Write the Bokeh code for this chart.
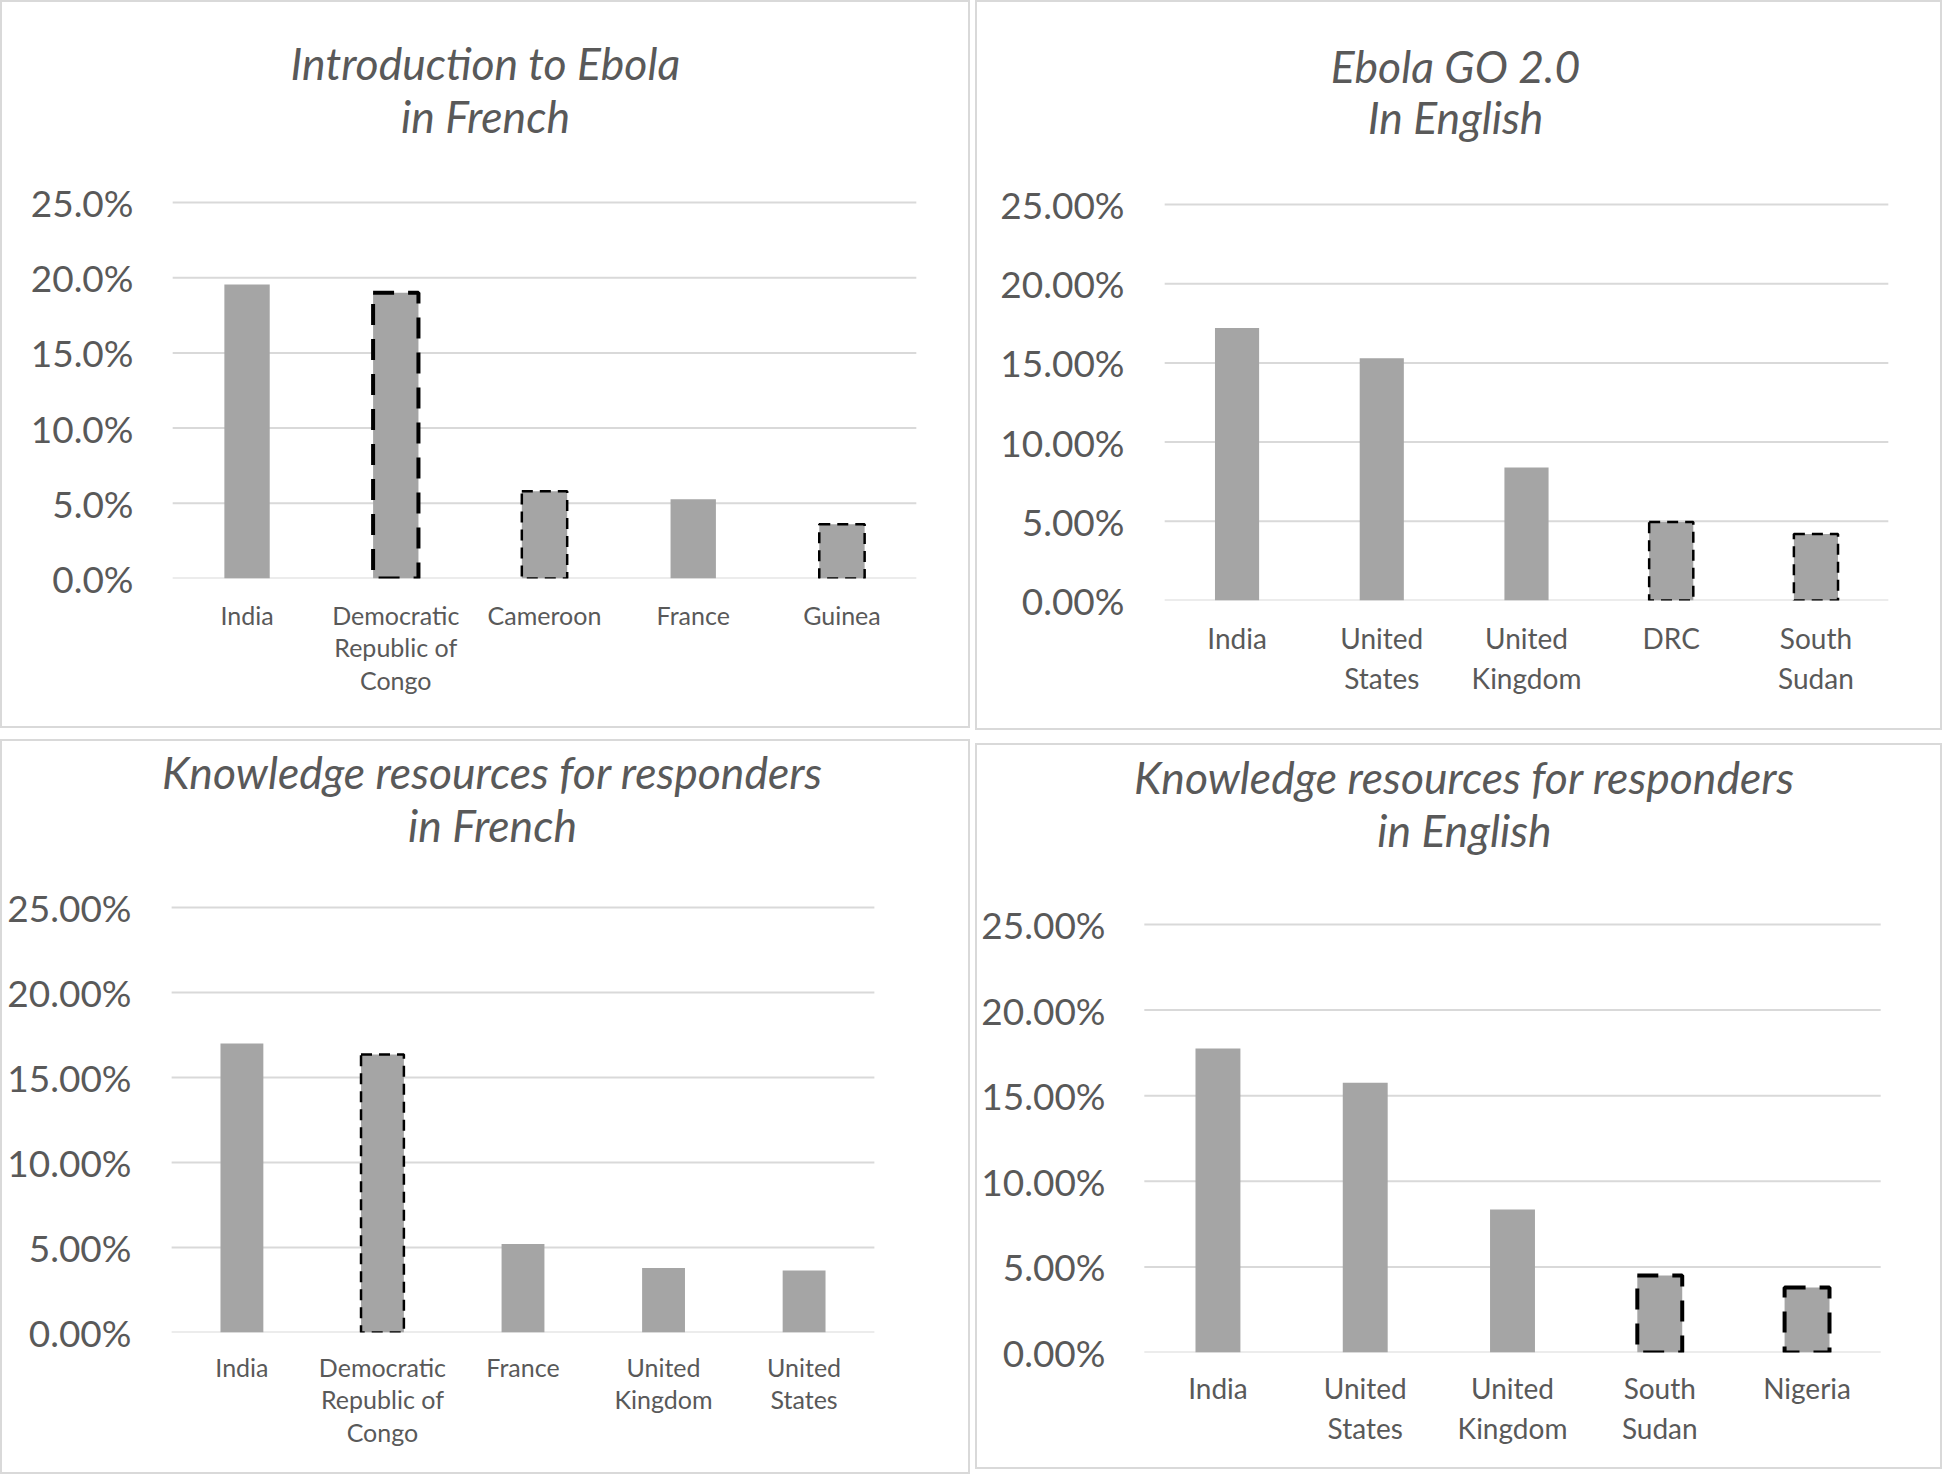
from bokeh.plotting import figure
from bokeh.models import FactorRange, Range1d, FixedTicker, NumeralTickFormatter, Label, ColumnDataSource
from bokeh.layouts import row, column
from bokeh.embed import file_html
from bokeh.resources import INLINE

# ---------------- data ----------------
tl_title = ["Introduction to Ebola", "in French"]
tl_categories = ["India", "Democratic\nRepublic of\nCongo", "Cameroon", "France", "Guinea"]
tl_values = [0.1955, 0.190, 0.058, 0.0527, 0.036]

tr_title = ["Ebola GO 2.0", "In English"]
tr_categories = ["India", "United\nStates", "United\nKingdom", "DRC", "South\nSudan"]
tr_values = [0.172, 0.153, 0.084, 0.0496, 0.042]

bl_title = ["Knowledge resources for responders", "in French"]
bl_categories = ["India", "Democratic\nRepublic of\nCongo", "France", "United\nKingdom", "United\nStates"]
bl_values = [0.170, 0.1635, 0.052, 0.038, 0.0365]

br_title = ["Knowledge resources for responders", "in English"]
br_categories = ["India", "United\nStates", "United\nKingdom", "South\nSudan", "Nigeria"]
br_values = [0.1776, 0.1575, 0.0836, 0.045, 0.038]

y_ticks = [0.0, 0.05, 0.10, 0.15, 0.20, 0.25]

# which bars carry a dashed outline (style, not data)
tl_outline = {"Democratic\nRepublic of\nCongo": "thick", "Cameroon": "thin", "Guinea": "thin"}
tr_outline = {"DRC": "thin", "South\nSudan": "thin"}
bl_outline = {"Democratic\nRepublic of\nCongo": "thin"}
br_outline = {"South\nSudan": "thick", "Nigeria": "thick"}

TEXT = "#595959"
GRID = "#d9d9d9"
BAR = "#a5a5a5"
FONT = "Lato"
PAD = 0.25  # room (in category units) left/right of the categories, so titles are not clipped

OUTLINE_STYLES = {
    "none": dict(line_color=None),
    "thin": dict(line_color="black", line_width=2.5, line_dash="11 7"),
    "thick": dict(line_color="black", line_width=4, line_dash="21 14"),
}


def make_panel(cats, vals, outline, title, fmt, geo):
    W, H = geo["w"], geo["h"]
    L, R, B, y25 = geo["L"], geo["R"], geo["B"], geo["y25"]
    n = len(cats)
    cat_w = (R - L) / n
    pad_px = PAD * cat_w
    ppu = (B - y25) / 0.25
    y_end = B / ppu
    p = figure(width=W, height=H,
               x_range=FactorRange(*cats, range_padding=PAD, range_padding_units="absolute"),
               y_range=Range1d(0, y_end),
               output_backend="svg", toolbar_location=None,
               min_border_left=int(round(L - pad_px)), min_border_right=int(round(W - R - pad_px)),
               min_border_top=0, min_border_bottom=H - B)
    p.outline_line_color = None
    p.background_fill_alpha = 0
    p.border_fill_alpha = 0
    p.styles = {"box-shadow": "inset 0 0 0 2px #d9d9d9",
                "outline": "2px solid #d9d9d9", "outline-offset": "-2px"}

    # horizontal gridlines spanning the category area only
    grid_src = ColumnDataSource(dict(y=y_ticks, x0=[0] * len(y_ticks), x1=[n] * len(y_ticks)))
    p.segment(x0="x0", x1="x1", y0="y", y1="y", source=grid_src, line_color=GRID, line_width=2)

    for style, kw in OUTLINE_STYLES.items():
        idx = [i for i, c in enumerate(cats) if outline.get(c, "none") == style]
        if not idx:
            continue
        src = ColumnDataSource(dict(x=[cats[i] for i in idx], top=[vals[i] for i in idx]))
        p.vbar(x="x", top="top", bottom=0, width=0.305, source=src, fill_color=BAR, **kw)

    p.yaxis.ticker = FixedTicker(ticks=y_ticks)
    p.yaxis.formatter = NumeralTickFormatter(format=fmt)
    p.yaxis.axis_line_color = None
    p.yaxis.major_tick_line_color = None
    p.yaxis.minor_tick_line_color = None
    p.yaxis.major_tick_out = 0
    p.yaxis.major_tick_in = 0
    p.yaxis.minor_tick_out = 0
    p.yaxis.major_label_standoff = max(0, int(round(geo["ystand"] - pad_px)))
    p.yaxis.major_label_text_font = FONT
    p.yaxis.major_label_text_font_size = "37px"
    p.yaxis.major_label_text_color = TEXT

    p.xaxis.axis_line_color = None
    p.xaxis.major_tick_line_color = None
    p.xaxis.major_tick_out = 0
    p.xaxis.major_tick_in = 0
    p.xaxis.major_label_standoff = geo["xstand"]
    p.xaxis.major_label_text_font = FONT
    p.xaxis.major_label_text_font_size = geo["xfs"]
    p.xaxis.major_label_text_color = TEXT
    p.xaxis.major_label_text_line_height = geo["xlh"]

    p.xgrid.grid_line_color = None
    p.ygrid.grid_line_color = None

    for line, base in zip(title, geo["tbase"]):
        p.add_layout(Label(x=(geo["tcx"] - L) / cat_w, y=(B - base) / ppu, text=line,
                           text_align="center", text_baseline="alphabetic",
                           text_font=FONT, text_font_style="italic",
                           text_font_size="44.5px", text_color=TEXT))
    return p


geo_tl = dict(w=970, h=728, L=172, R=916, B=578, y25=202, tcx=485, tbase=(61.5, 115),
              ystand=39, xstand=21, xfs="25px", xlh=1.09)
geo_tr = dict(w=967, h=730, L=189, R=913, B=600, y25=204, tcx=480, tbase=(64.5, 116),
              ystand=40, xstand=20, xfs="28px", xlh=1.2)
geo_bl = dict(w=970, h=735, L=171, R=874, B=593, y25=168, tcx=492, tbase=(32, 85),
              ystand=40, xstand=19, xfs="25px", xlh=1.09)
geo_br = dict(w=967, h=726, L=169, R=905, B=609, y25=181, tcx=489, tbase=(33, 85.5),
              ystand=39, xstand=18, xfs="28px", xlh=1.19)

p_tl = make_panel(tl_categories, tl_values, tl_outline, tl_title, "0.0%", geo_tl)
p_tr = make_panel(tr_categories, tr_values, tr_outline, tr_title, "0.00%", geo_tr)
p_bl = make_panel(bl_categories, bl_values, bl_outline, bl_title, "0.00%", geo_bl)
p_br = make_panel(br_categories, br_values, br_outline, br_title, "0.00%", geo_br)

layout = row(column(column(p_tl), column(p_bl), spacing=11),
             column(column(p_tr), column(p_br), spacing=13), spacing=5)

open("out.html", "w").write(file_html(layout, INLINE))
